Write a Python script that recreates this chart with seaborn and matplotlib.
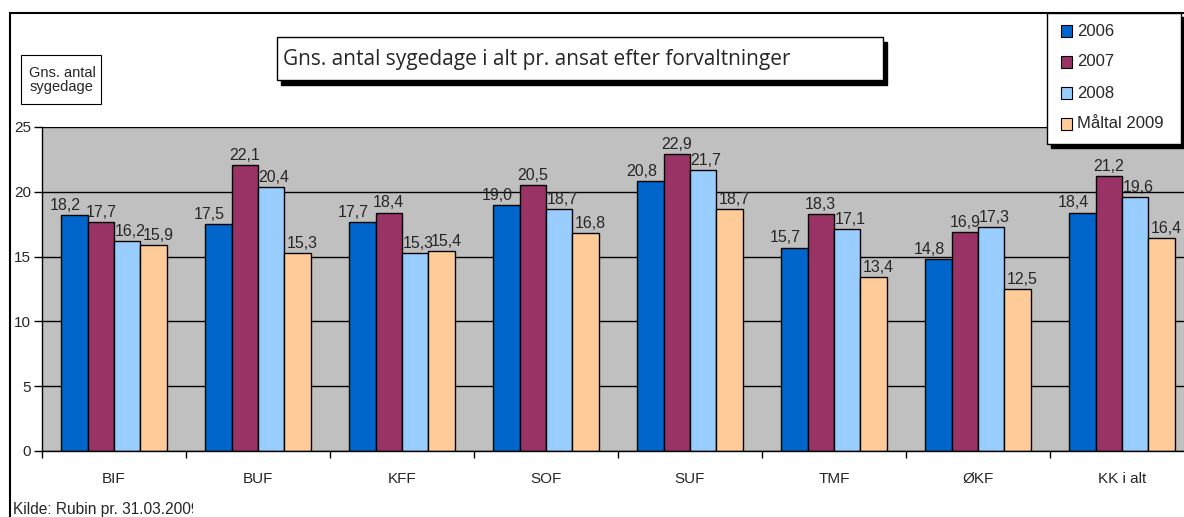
import matplotlib
matplotlib.use("Agg")
import matplotlib.pyplot as plt
import seaborn as sns
import pandas as pd
import numpy as np
from matplotlib.patches import Rectangle
from matplotlib.transforms import Bbox

categories = ["BIF", "BUF", "KFF", "SOF", "SUF", "TMF", "ØKF", "KK i alt"]
series = ["2006", "2007", "2008", "Måltal 2009"]
v2006 = [18.2, 17.5, 17.7, 19.0, 20.8, 15.7, 14.8, 18.4]
v2007 = [17.7, 22.1, 18.4, 20.5, 22.9, 18.3, 16.9, 21.2]
v2008 = [16.2, 20.4, 15.3, 18.7, 21.7, 17.1, 17.3, 19.6]
v2009 = [15.9, 15.3, 15.4, 16.8, 18.7, 13.4, 12.5, 16.4]
colors = ["#0066CC", "#993366", "#99CCFF", "#FFCC99"]

rows = []
for s, vals in zip(series, [v2006, v2007, v2008, v2009]):
    for c, v in zip(categories, vals):
        rows.append({"Forvaltning": c, "Serie": s, "Værdi": v})
df = pd.DataFrame(rows)

sns.set_theme(style="white")
plt.rcParams["font.family"] = ["Liberation Sans", "DejaVu Sans"]

W, H = 1184, 517
fig = plt.figure(figsize=(W / 100, H / 100), dpi=100)

def fx(px):
    return px / W

def fy(py):
    return 1 - py / H

# axes: left 42, right 42+8*144=1194, top 127, bottom 451
ax = fig.add_axes([fx(42), fy(451), (1194 - 42) / W, (451 - 127) / H])
ax.set_facecolor("#C0C0C0")

sns.barplot(data=df, x="Forvaltning", y="Værdi", hue="Serie", order=categories,
            hue_order=series, palette=colors, width=0.735, ax=ax,
            edgecolor="black", linewidth=1.0, saturation=1, errorbar=None,
            legend=False)

ax.set_ylim(0, 25)
ax.set_xlim(-0.5, len(categories) - 0.5)
ax.set_yticks([0, 5, 10, 15, 20, 25])
ax.set_yticklabels(["0", "5", "10", "15", "20", "25"], fontsize=11)
ax.yaxis.grid(True, color="black", linewidth=1.0)
ax.set_axisbelow(True)
ax.set_xticks(np.arange(len(categories)))
ax.set_xticklabels(categories, fontsize=11)
ax.tick_params(axis="x", length=0, pad=15)
ax.set_xticks(np.arange(len(categories) + 1) - 0.5, minor=True)
ax.tick_params(axis="x", which="minor", length=5, width=1, color="black", direction="out", bottom=True)
ax.tick_params(axis="y", length=6, width=1, color="black", direction="out", left=True, pad=2)
ax.set_xlabel("")
ax.set_ylabel("")
for side in ["top", "right"]:
    ax.spines[side].set_visible(False)
for side in ["left", "bottom"]:
    ax.spines[side].set_color("black")
    ax.spines[side].set_linewidth(1.0)

label_dx = [-6.5, 0.0, 2.0, 3.0]  # points, label offset per series
for cont, dx in zip(ax.containers, label_dx):
    labels = [f"{b.get_height():.1f}".replace(".", ",") for b in cont]
    anns = ax.bar_label(cont, labels=labels, fontsize=11.5, padding=1.5)
    for a in anns:
        a.xyann = (dx, a.xyann[1])

# outer frame
fig.patches.append(Rectangle((fx(10), fy(530)), fx(1200), (530 - 13) / H,
                             transform=fig.transFigure, fill=False,
                             edgecolor="black", linewidth=1.5, zorder=0))

# title box with shadow
tx0, ty0, tx1, ty1 = 277, 37, 883, 80
fig.patches.append(Rectangle((fx(tx0 + 4), fy(ty1 + 5)), fx(tx1 - tx0), (ty1 - ty0) / H,
                             transform=fig.transFigure, facecolor="black",
                             edgecolor="black", zorder=1))
fig.patches.append(Rectangle((fx(tx0), fy(ty1)), fx(tx1 - tx0), (ty1 - ty0) / H,
                             transform=fig.transFigure, facecolor="white",
                             edgecolor="black", linewidth=1.0, zorder=2))
fig.text(fx(283), fy(59), "Gns. antal sygedage i alt pr. ansat efter forvaltninger",
         fontsize=15, family=["Open Sans", "DejaVu Sans"], va="center", ha="left", zorder=3)

# y label box
fig.patches.append(Rectangle((fx(21), fy(104)), fx(101 - 21), (104 - 55) / H,
                             transform=fig.transFigure, facecolor="white",
                             edgecolor="black", linewidth=0.8, zorder=2))
fig.text(fx(62), fy(80), "Gns. antal\nsygedage", fontsize=10.5, ha="center", va="center",
         linespacing=0.95, zorder=3)

# legend box with shadow
lx0, ly0, lx1, ly1 = 1047, 13, 1181, 144
fig.patches.append(Rectangle((fx(lx0 + 4), fy(ly1 + 4)), fx(lx1 - lx0), (ly1 - ly0) / H,
                             transform=fig.transFigure, facecolor="black",
                             edgecolor="black", zorder=4))
fig.patches.append(Rectangle((fx(lx0), fy(ly1)), fx(lx1 - lx0), (ly1 - ly0) / H,
                             transform=fig.transFigure, facecolor="white",
                             edgecolor="black", linewidth=1.0, zorder=5))
for i, (s, c) in enumerate(zip(series, colors)):
    yc = 31 + i * 31
    fig.patches.append(Rectangle((fx(1061), fy(yc + 5.5)), fx(11), 11 / H,
                                 transform=fig.transFigure, facecolor=c,
                                 edgecolor="black", linewidth=0.8, zorder=6))
    fig.text(fx(1077), fy(yc), s, fontsize=12, va="center", ha="left", zorder=7)

# source text (clipped)
t = fig.text(fx(13), fy(514), "Kilde: Rubin pr. 31.03.2009", fontsize=11.2, va="baseline", ha="left")
t.set_clip_box(Bbox([[0, 0], [193, H]]))
t.set_clip_on(True)

fig.savefig("out.png", dpi=100)
